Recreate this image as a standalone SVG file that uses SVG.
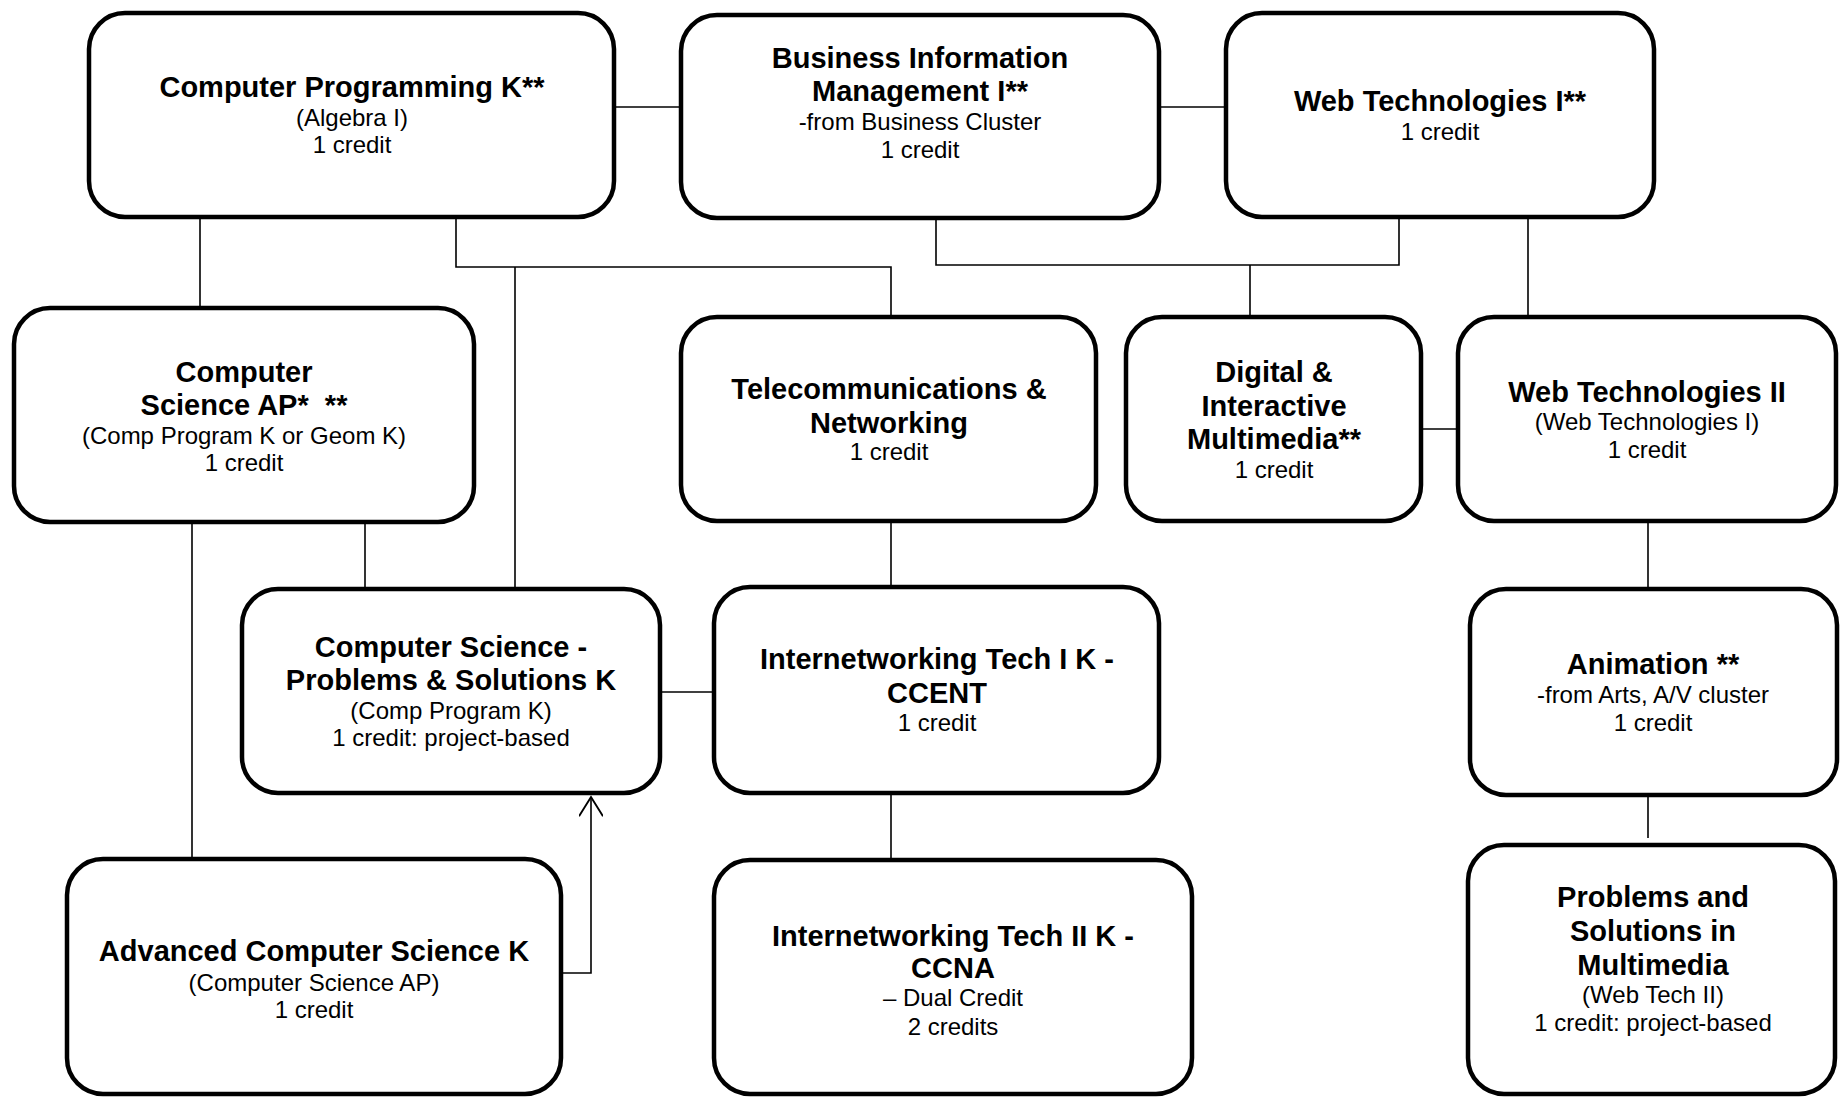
<svg xmlns="http://www.w3.org/2000/svg" width="1846" height="1099" viewBox="0 0 1846 1099">
<style>
.box{fill:#fff;stroke:#000;stroke-width:4.5}
.t{font-family:"Liberation Sans",Arial,sans-serif;font-size:29px;font-weight:bold;text-anchor:middle;fill:#000}
.s{font-family:"Liberation Sans",Arial,sans-serif;font-size:24px;text-anchor:middle;fill:#000}
.c{fill:none;stroke:#000;stroke-width:1.6}
</style>
<defs>
<marker id="arr" markerWidth="24" markerHeight="24" refX="0" refY="10" orient="auto" markerUnits="userSpaceOnUse" viewBox="-18 0 20 20">
<path d="M-16,0 L0,10 L-16,20" fill="none" stroke="#000" stroke-width="1.6"/>
</marker>
</defs>
<rect width="1846" height="1099" fill="#fff"/>
<g id="connectors">
<line class="c" x1="616" y1="107" x2="679" y2="107"/>
<line class="c" x1="1161" y1="107" x2="1224" y2="107"/>
<line class="c" x1="200" y1="219" x2="200" y2="306"/>
<polyline class="c" points="456,219 456,267 891,267 891,315"/>
<line class="c" x1="515" y1="267" x2="515" y2="587"/>
<polyline class="c" points="936,220 936,265 1399,265 1399,219"/>
<line class="c" x1="1250" y1="265" x2="1250" y2="315"/>
<line class="c" x1="1528" y1="219" x2="1528" y2="315"/>
<line class="c" x1="1423" y1="429" x2="1456" y2="429"/>
<line class="c" x1="365" y1="524" x2="365" y2="587"/>
<line class="c" x1="192" y1="524" x2="192" y2="857"/>
<line class="c" x1="891" y1="523" x2="891" y2="585"/>
<line class="c" x1="662" y1="692" x2="712" y2="692"/>
<line class="c" x1="891" y1="795" x2="891" y2="858"/>
<polyline class="c" points="563,973 591,973 591,797" marker-end="url(#arr)"/>
<line class="c" x1="1648" y1="523" x2="1648" y2="587"/>
<line class="c" x1="1648" y1="797" x2="1648" y2="838"/>
</g>
<g id="computer-programming">
<rect class="box" x="89" y="13" width="525" height="204" rx="36"/>
<text class="t" x="352" y="97">Computer Programming K**</text>
<text class="s" x="352" y="126">(Algebra I)</text>
<text class="s" x="352" y="153">1 credit</text>
</g>
<g id="business-information-management">
<rect class="box" x="681" y="15" width="478" height="203" rx="36"/>
<text class="t" x="920" y="68">Business Information</text>
<text class="t" x="920" y="101">Management I**</text>
<text class="s" x="920" y="130">-from Business Cluster</text>
<text class="s" x="920" y="158">1 credit</text>
</g>
<g id="web-technologies-1">
<rect class="box" x="1226" y="13" width="428" height="204" rx="36"/>
<text class="t" x="1440" y="111">Web Technologies I**</text>
<text class="s" x="1440" y="140">1 credit</text>
</g>
<g id="computer-science-ap">
<rect class="box" x="14" y="308" width="460" height="214" rx="36"/>
<text class="t" x="244" y="382">Computer</text>
<text class="t" x="244" y="415" xml:space="preserve">Science AP*  **</text>
<text class="s" x="244" y="444">(Comp Program K or Geom K)</text>
<text class="s" x="244" y="471">1 credit</text>
</g>
<g id="telecommunications-networking">
<rect class="box" x="681" y="317" width="415" height="204" rx="36"/>
<text class="t" x="889" y="399">Telecommunications &amp;</text>
<text class="t" x="889" y="433">Networking</text>
<text class="s" x="889" y="460">1 credit</text>
</g>
<g id="digital-interactive-multimedia">
<rect class="box" x="1126" y="317" width="295" height="204" rx="36"/>
<text class="t" x="1274" y="382">Digital &amp;</text>
<text class="t" x="1274" y="416">Interactive</text>
<text class="t" x="1274" y="449">Multimedia**</text>
<text class="s" x="1274" y="478">1 credit</text>
</g>
<g id="web-technologies-2">
<rect class="box" x="1458" y="317" width="378" height="204" rx="36"/>
<text class="t" x="1647" y="402">Web Technologies II</text>
<text class="s" x="1647" y="430">(Web Technologies I)</text>
<text class="s" x="1647" y="458">1 credit</text>
</g>
<g id="cs-problems-solutions">
<rect class="box" x="242" y="589" width="418" height="204" rx="36"/>
<text class="t" x="451" y="657">Computer Science -</text>
<text class="t" x="451" y="690">Problems &amp; Solutions K</text>
<text class="s" x="451" y="719">(Comp Program K)</text>
<text class="s" x="451" y="746">1 credit: project-based</text>
</g>
<g id="internetworking-1">
<rect class="box" x="714" y="587" width="445" height="206" rx="36"/>
<text class="t" x="937" y="669">Internetworking Tech I K -</text>
<text class="t" x="937" y="703">CCENT</text>
<text class="s" x="937" y="731">1 credit</text>
</g>
<g id="animation">
<rect class="box" x="1470" y="589" width="367" height="206" rx="36"/>
<text class="t" x="1653" y="674">Animation **</text>
<text class="s" x="1653" y="703">-from Arts, A/V cluster</text>
<text class="s" x="1653" y="731">1 credit</text>
</g>
<g id="advanced-computer-science">
<rect class="box" x="67" y="859" width="494" height="235" rx="36"/>
<text class="t" x="314" y="961">Advanced Computer Science K</text>
<text class="s" x="314" y="991">(Computer Science AP)</text>
<text class="s" x="314" y="1018">1 credit</text>
</g>
<g id="internetworking-2">
<rect class="box" x="714" y="860" width="478" height="234" rx="36"/>
<text class="t" x="953" y="946">Internetworking Tech II K -</text>
<text class="t" x="953" y="978">CCNA</text>
<text class="s" x="953" y="1006">– Dual Credit</text>
<text class="s" x="953" y="1035">2 credits</text>
</g>
<g id="problems-solutions-multimedia">
<rect class="box" x="1468" y="845" width="367" height="249" rx="36"/>
<text class="t" x="1653" y="907">Problems and</text>
<text class="t" x="1653" y="941">Solutions in</text>
<text class="t" x="1653" y="975">Multimedia</text>
<text class="s" x="1653" y="1003">(Web Tech II)</text>
<text class="s" x="1653" y="1031">1 credit: project-based</text>
</g>
</svg>
